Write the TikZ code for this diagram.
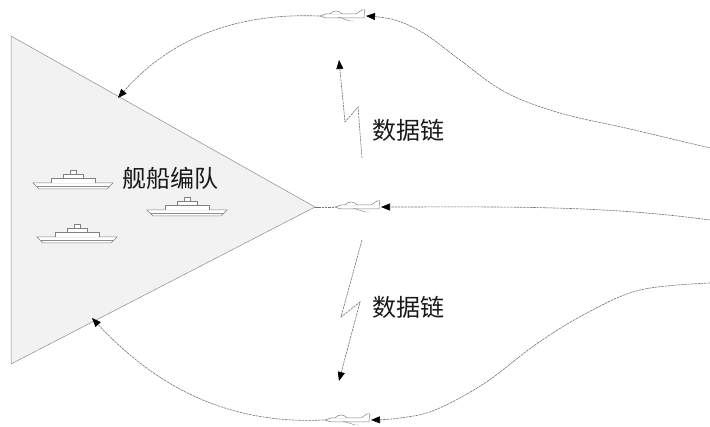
\documentclass[tikz,border=0pt]{standalone}
\usepackage{fontspec}
\newfontfamily\cjk{Noto Sans CJK SC}
\usetikzlibrary{arrows.meta}
\begin{document}
\begin{tikzpicture}[x=1pt,y=-1pt,
  route/.style={draw=black!55,line width=0.6pt,dash pattern=on 2.5pt off 0.8pt},
  tip/.style={-{Triangle[length=9pt,width=7pt,black]}},
  label/.style={font=\cjk\fontsize{24}{24}\selectfont,text=black!90,inner sep=0pt},
  outline/.style={draw=black!50,line width=0.5pt,fill=white},
  ship/.pic={
    \draw[outline] (-40,0) -- (40,0) -- (34,6) -- (-34,6) -- cycle;
    \draw[black!45,line width=0.4pt] (-36,3) -- (36,3);
    \draw[outline] (-22,0) -- (-22,-5) -- (22,-5) -- (22,0);
    \draw[outline] (-10,-5) -- (-10,-9) -- (10,-9) -- (10,-5);
    \draw[outline] (-3,-9) -- (-3,-13) -- (3,-13) -- (3,-9);
  },
  plane/.pic={
    \draw[outline] (-22,0) -- (-16,-2) -- (14,-2) -- (20,-6) -- (23,-6) -- (22,-1) -- (22,2) -- (-16,2) -- cycle;
    \draw[outline] (-12,-2) .. controls (-9,-6) and (-3,-6) .. (0,-2);
    \draw[black!50,line width=0.4pt] (-4,1) -- (8,5) -- (12,5);
  }]
\useasboundingbox (0,0) rectangle (710,427);

% formation area
\path[fill=black!5,draw=black!45,line width=0.5pt]
  (11,36) coordinate (tl) -- (315,207) coordinate (apex) -- (11,364) coordinate (bl) -- cycle;

% ships
\pic at (73,183) {ship};
\pic at (77,237) {ship};
\pic at (187,210) {ship};
\node[label] (fleet) at (170,178) {舰船编队};

% aircraft
\pic at (342,16) {plane};
\pic at (357,207) {plane};
\pic at (347,420) {plane};
\coordinate (topnose) at (319,16);
\coordinate (toptail) at (366,16);
\coordinate (midnose) at (334,207);
\coordinate (midtail) at (381,207);
\coordinate (botnose) at (324,420);
\coordinate (bottail) at (371,420);

% flight routes
\coordinate (topin) at (710,148);
\coordinate (midin) at (710,220);
\coordinate (botin) at (710,283);
\coordinate (topland) at (118,98);
\coordinate (botland) at (92,318);

\draw[route,tip] plot[smooth,tension=0.6] coordinates
  {(topin) (630,129) (560,113) (505,92) (460,60) (425,34) (395,20) (toptail)};
\draw[route,tip] (topnose) .. controls (220,12) and (160,50) .. (topland);

\draw[route,tip] (midin) .. controls (600,205) and (500,207) .. (midtail);
\draw[route] (apex) -- (midnose);

\draw[route,tip] plot[smooth,tension=0.6] coordinates
  {(botin) (640,290) (585,314) (535,345) (485,383) (435,410) (400,418) (bottail)};
\draw[route,tip] (botnose) .. controls (220,425) and (150,380) .. (botland);

% data links
\coordinate (l1a) at (362,158);
\coordinate (l1b) at (358,107);
\coordinate (l1c) at (345,122);
\coordinate (l1d) at (339,60);
\draw[route,tip] (l1a) -- (l1b) -- (l1c) -- (l1d);
\node[label] (link1) at (408,130) {数据链};

\coordinate (l2a) at (362,240);
\coordinate (l2b) at (341,317);
\coordinate (l2c) at (360,302);
\coordinate (l2d) at (339,381);
\draw[route,tip] (l2a) -- (l2b) -- (l2c) -- (l2d);
\node[label] (link2) at (408,307) {数据链};
\end{tikzpicture}
\end{document}
